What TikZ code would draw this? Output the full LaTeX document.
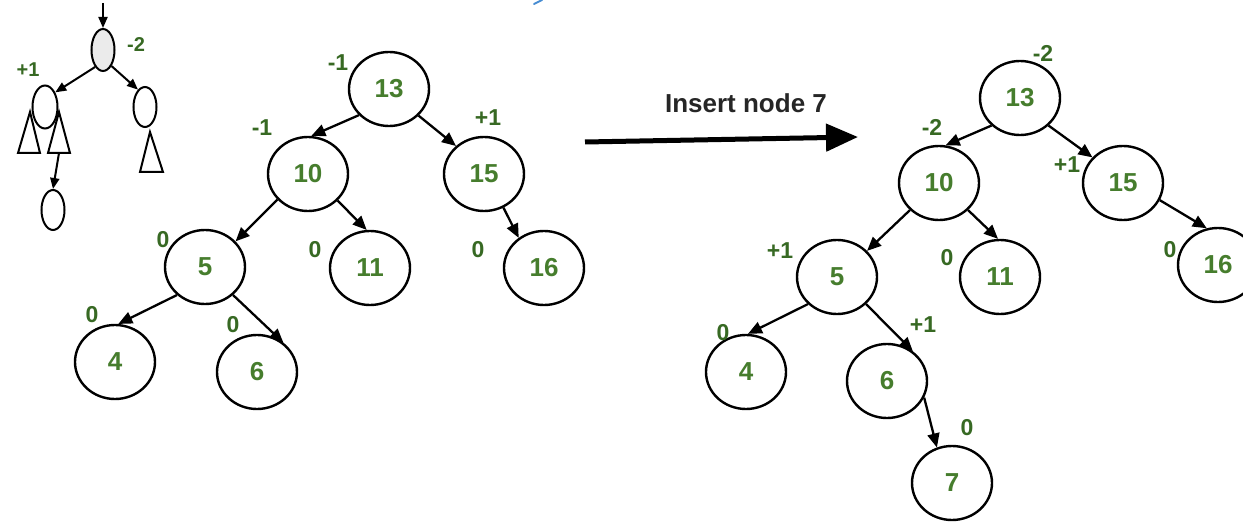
\documentclass[tikz,border=0pt]{standalone}
\usepackage{fontspec}
\setmainfont{Liberation Sans}
\usetikzlibrary{shapes.geometric,arrows.meta}
\definecolor{numgreen}{RGB}{70,125,45}
\definecolor{balgreen}{RGB}{55,105,35}
\definecolor{markblue}{RGB}{70,140,210}
\tikzset{
  avl/.style={ellipse,draw=black,line width=2.4pt,minimum width=80pt,minimum height=74pt,inner sep=0pt,
    font=\fontsize{26}{26}\selectfont\bfseries,text=numgreen},
  small/.style={ellipse,draw=black,line width=2pt,minimum width=23pt,minimum height=42pt,inner sep=0pt},
  bal/.style={font=\fontsize{23}{23}\selectfont\bfseries,text=balgreen,inner sep=0pt},
  sbal/.style={font=\fontsize{20}{20}\selectfont\bfseries,text=balgreen,inner sep=0pt},
  edge/.style={line width=2.3pt,-{Triangle[length=14pt,width=12pt]}},
  sedge/.style={line width=2pt,-{Triangle[length=11pt,width=9pt]}},
  tri/.style={line width=2pt,line join=miter}
}
\begin{document}
\begin{tikzpicture}[x=1pt,y=-1pt]
\useasboundingbox (0,0) rectangle (1243,524);
\fill[white] (0,0) rectangle (1243,524);
% blue fragment at top
\draw[markblue,line width=2pt,line cap=round] (534,4) -- (542,0);

% ---------- small schematic tree ----------
\node[small,fill=black!8] (sr) at (103,50) {};
\node[small,minimum width=25pt,minimum height=43pt] (sl) at (45,107) {};
\node[small,minimum height=40pt] (sR) at (145,107) {};
\node[small,minimum height=40pt] (sb) at (53,210) {};
\coordinate (sin) at (103,3);
\coordinate (tbase) at (59,153);
\draw[tri] (30,112) -- (18,153) -- (40,153) -- cycle;
\draw[tri] (59,112) -- (48,153) -- (70,153) -- cycle;
\draw[tri] (150,132) -- (140,172) -- (163,172) -- cycle;
\draw[sedge] (sin) -- (sr.north);
\draw[sedge] (sr.-115) -- (sl.55);
\draw[sedge] (sr.-62) -- (sR.112);
\draw[sedge] (tbase) -- (sb.north);
\node[sbal] (sb1) at (136,45) {-2};
\node[sbal] (sb2) at (28,70) {+1};

% ---------- left AVL tree ----------
\node[avl] (a13) at (389,89) {13};
\node[avl] (a10) at (308,174) {10};
\node[avl] (a15) at (484,174) {15};
\node[avl] (a11) at (370,268) {11};
\node[avl] (a16) at (544,268) {16};
\node[avl] (a5) at (205,267) {5};
\node[avl] (a4) at (115,362) {4};
\node[avl] (a6) at (257,372) {6};
\draw[edge] (a13.-139) -- (a10.85);
\draw[edge] (a13.-42) -- (a15.135);
\draw[edge] (a10.-140) -- (a5.40);
\draw[edge] (a10.-42) -- (a11.95);
\draw[edge] (a15.-60) -- (a16.130);
\draw[edge] (a5.-135) -- (a4.85);
\draw[edge] (a5.-45) -- (a6.48);
\node[bal] (ab13) at (338,63) {-1};
\node[bal] (ab10) at (262,128) {-1};
\node[bal] (ab15) at (488,118) {+1};
\node[bal] (ab11) at (315,250) {0};
\node[bal] (ab16) at (478,250) {0};
\node[bal] (ab5) at (163,240) {0};
\node[bal] (ab4) at (92,315) {0};
\node[bal] (ab6) at (233,325) {0};

% ---------- insert arrow ----------
\coordinate (ia) at (585,142);
\coordinate (ib) at (858,137);
\draw[line width=5pt,-{Triangle[length=32pt,width=27pt]}] (ia) -- (ib);
\node[font=\fontsize{26}{26}\selectfont\bfseries,text=black!85,inner sep=0pt] (ilab) at (746,103) {Insert node 7};

% ---------- right AVL tree ----------
\node[avl] (b13) at (1020,98) {13};
\node[avl] (b10) at (939,183) {10};
\node[avl] (b15) at (1123,183) {15};
\node[avl] (b11) at (1000,277) {11};
\node[avl] (b16) at (1218,265) {16};
\node[avl] (b5) at (837,277) {5};
\node[avl] (b4) at (746,372) {4};
\node[avl] (b6) at (887,381) {6};
\node[avl] (b7) at (952,483) {7};
\draw[edge] (b13.-136) -- (b10.80);
\draw[edge] (b13.-44) -- (b15.140);
\draw[edge] (b10.-43) -- (b11.93);
\draw[edge] (b15.-25) -- (b16.107);
\draw[edge] (b10.-137) -- (b5.41);
\draw[edge] (b5.-137) -- (b4.87);
\draw[edge] (b5.-43) -- (b6.49);
\draw[edge] (b6.-24) -- (b7.113);
\node[bal] (bb13) at (1043,53) {-2};
\node[bal] (bb10) at (932,127) {-2};
\node[bal] (bb15) at (1067,165) {+1};
\node[bal] (bb11) at (947,258) {0};
\node[bal] (bb16) at (1170,250) {0};
\node[bal] (bb5) at (780,251) {+1};
\node[bal] (bb4) at (723,333) {0};
\node[bal] (bb6) at (923,325) {+1};
\node[bal] (bb7) at (967,428) {0};
\end{tikzpicture}
\end{document}
